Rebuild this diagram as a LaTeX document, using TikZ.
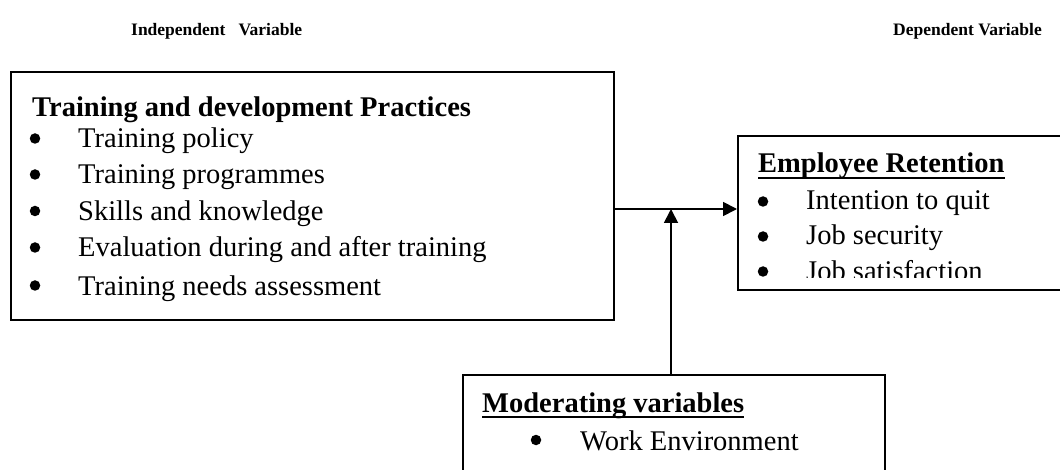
\documentclass[tikz,border=0pt]{standalone}
\usepackage{fontspec}
\setmainfont{Liberation Serif}
\usetikzlibrary{arrows.meta}
\begin{document}
\begin{tikzpicture}[x=1pt,y=-1pt,
  box/.style={draw, line width=1.8pt, inner sep=0pt, anchor=north west},
  txt/.style={inner sep=0pt, anchor=base west, font=\fontsize{28.5}{34}\selectfont},
  ttl/.style={inner sep=0pt, anchor=base west, font=\fontsize{28.5}{34}\selectfont\bfseries},
  hdr/.style={inner sep=0pt, anchor=base west, font=\fontsize{17.5}{21}\selectfont\bfseries},
  dot/.style={circle, fill, inner sep=0pt, minimum size=10.5pt},
  link/.style={line width=1.8pt, -{Triangle[length=14pt,width=14pt]}},
  uline/.style={line width=1.8pt}]
\useasboundingbox (0,0) rectangle (1060,470);
\clip (0,0) rectangle (1060,470);

% column headings
\node[hdr] (hind) at (131,36) {Independent\hspace{0.75em}Variable};
\node[hdr] (hdep) at (893,36) {Dependent Variable};

% independent variable box
\node[box, minimum width=603, minimum height=248] (tdp) at (10,71) {};
\node[ttl] (tdpt) at (32,117) {Training and development Practices};
\foreach \i/\yy/\lbl in {1/148/Training policy, 2/184/Training programmes,
    3/220.5/Skills and knowledge, 4/257/Evaluation during and after training,
    5/295/Training needs assessment} {
  \node[dot] (tdpb\i) at (35,\yy-9.5) {};
  \node[txt] (tdpi\i) at (78,\yy) {\lbl};
}

% dependent variable box (last line runs under the lower edge)
\node[box, minimum width=330, minimum height=154] (er) at (737,135) {};
\begin{scope}
  \clip (737,135) rectangle (1060,278);
  \node[ttl] (ert) at (758,173) {Employee Retention};
  \foreach \i/\yy/\lbl in {1/210/Intention to quit, 2/245/Job security,
      3/280/Job satisfaction} {
    \node[dot] (erb\i) at (763,\yy-8.5) {};
    \node[txt] (eri\i) at (806,\yy) {\lbl};
  }
\end{scope}
\draw[uline] ([yshift=-5]ert.base west) -- ([yshift=-5]ert.base east);

% moderating variable box
\node[box, minimum width=422, minimum height=120] (mod) at (462,374) {};
\node[ttl] (modt) at (482,412) {Moderating variables};
\draw[uline] ([yshift=-5]modt.base west) -- ([yshift=-5]modt.base east);
\node[dot] (modb1) at (536,440) {};
\node[txt] (modi1) at (580,450) {Work Environment};

% connectors
\coordinate (j) at (671,209);
\draw[link] (tdp.east |- j) -- (er.west |- j);
\draw[link] (j |- mod.north) -- (j);
\end{tikzpicture}
\end{document}
